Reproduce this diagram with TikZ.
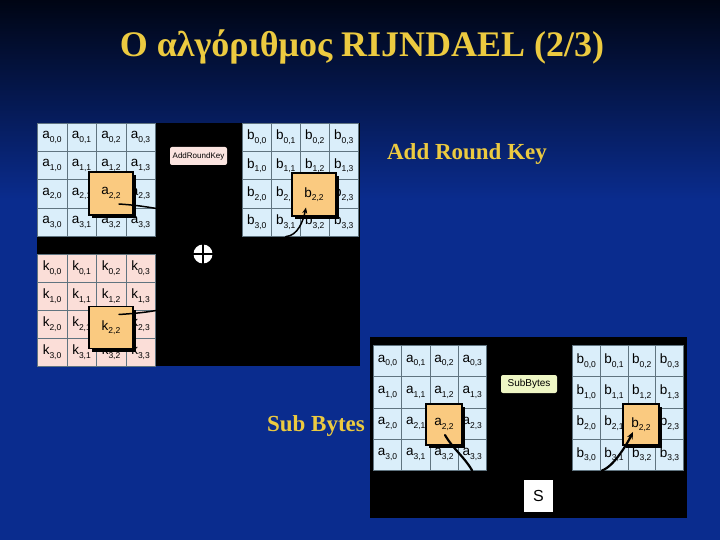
\documentclass[tikz,border=0pt]{standalone}
\usepackage{fontspec}
\setmainfont{Liberation Serif}
\newfontfamily\cellfont{Liberation Sans}
\usetikzlibrary{arrows.meta,shadows}
\definecolor{slidegold}{RGB}{236,202,64}
\definecolor{slideblue}{RGB}{10,44,142}
\definecolor{slidetop}{RGB}{0,5,20}
\definecolor{stateblue}{RGB}{218,238,250}
\definecolor{keypink}{RGB}{251,222,216}
\definecolor{hlorange}{RGB}{250,202,128}
\definecolor{gridgray}{RGB}{96,116,128}
\definecolor{tagpink}{RGB}{251,228,224}
\definecolor{taggreen}{RGB}{238,246,196}
\def\cellent#1#2#3{{\cellfont\fontsize{13.5}{13.5}\selectfont #1\raisebox{-0.5ex}{\fontsize{8.5}{8.5}\selectfont #2,#3}}}
% the (2,2) cell is hidden under its highlight box
\def\statemat#1#2#3#4#5#6#7{%
  \foreach \r in {0,...,3} \foreach \c in {0,...,3}
    \node[cellbox, fill=#7, minimum width=#5pt, minimum height=#6pt] (#1-\r-\c) at ({#3+\c*#5},{#4+\r*#6})
      {\ifnum\r\c=22 \else\cellent{#2}{\r}{\c}\fi};}

\begin{document}
\begin{tikzpicture}[x=1pt, y=-1pt,
    cellbox/.style={draw=gridgray, line width=0.6pt, anchor=north west, inner sep=0pt},
    hlbox/.style={draw=black, line width=1.3pt, fill=hlorange, inner sep=0pt,
      general shadow={fill=black, shadow xshift=3pt, shadow yshift=-3pt}},
    tagbox/.style={rounded corners=2pt, inner sep=0pt, font=\cellfont\fontsize{8}{8}\selectfont},
    slidetext/.style={text=slidegold, font=\bfseries\fontsize{23}{26}\selectfont},
    flow/.style={line width=1.5pt, line cap=round}]
		%%%%% START %%%%%
		\useasboundingbox (0,0) rectangle (720,540);
		\shade[top color=slidetop, bottom color=slideblue] (0,0) rectangle (720,200);
		\fill[slideblue] (0,200) rectangle (720,540);
		
		\node[text=slidegold, font=\bfseries\fontsize{36}{40}\selectfont, anchor=base] (title) at (362,57) {Ο αλγόριθμος RIJNDAEL (2/3)};
		
		% add round key panel
		\fill[black] (37,123) rectangle (360,366);
		\statemat{ark-a}{a}{37}{123}{29.5}{28.25}{stateblue}
		\statemat{ark-b}{b}{242}{123}{29}{28.25}{stateblue}
		\statemat{ark-k}{k}{37}{254}{29.5}{28}{keypink}
		
		\node[hlbox, minimum width=44pt, minimum height=43pt] (ark-ahl) at (111,193.5) {\cellent{a}{2}{2}};
		\node[hlbox, minimum width=44pt, minimum height=43pt] (ark-bhl) at (314,194.5) {\cellent{b}{2}{2}};
		\node[hlbox, minimum width=44pt, minimum height=42pt] (ark-khl) at (111,327.5) {\cellent{k}{2}{2}};
		
		\node[tagbox, fill=tagpink, minimum width=57pt, minimum height=18pt] (ark-tag) at (198.5,156) {AddRoundKey};
		
		\node[circle, fill=white, minimum size=19pt, inner sep=0pt] (xor) at (203,254) {};
		\draw[line width=1.4pt] (xor.north) -- (xor.south);
		\draw[line width=1.4pt] (xor.west) -- (xor.east);
		
		\draw[flow] ([xshift=8pt,yshift=-10.5pt]ark-ahl.center) .. controls +(15,1) and +(-12,-2) .. (ark-a-2-3.south east);
		\draw[flow] ([xshift=8pt,yshift=13pt]ark-khl.center) .. controls +(15,-1) and +(-12,2) .. (ark-k-1-3.south east);
		\draw[flow, -{Stealth[length=6pt,width=5pt]}] (ark-b-3-1.south) .. controls +(12,-1) and +(-3,14) .. ([xshift=-8pt,yshift=-13pt]ark-bhl.center);
		
		\node[slidetext] (ark-label) at (467,154) {Add Round Key};
		
		% sub bytes panel
		\fill[black] (370,337) rectangle (687,518);
		\statemat{sub-a}{a}{373}{345}{28.25}{31.25}{stateblue}
		\statemat{sub-b}{b}{572}{345}{27.75}{31.25}{stateblue}
		
		\node[hlbox, minimum width=36pt, minimum height=41pt] (sub-ahl) at (444,424.5) {\cellent{a}{2}{2}};
		\node[hlbox, minimum width=36pt, minimum height=41pt] (sub-bhl) at (641,424.5) {\cellent{b}{2}{2}};
		
		\node[tagbox, fill=taggreen, minimum width=56pt, minimum height=18pt, font=\cellfont\fontsize{10}{10}\selectfont] (sub-tag) at (529,384) {SubBytes};
		\node[fill=white, minimum width=29pt, minimum height=32pt, inner sep=0pt, font=\cellfont\fontsize{16}{16}\selectfont] (sbox) at (538.5,496) {S};
		
		\draw[flow, line width=2.2pt] ([xshift=1pt,yshift=-10.5pt]sub-ahl.center) .. controls +(8,14) and +(-8,-14) .. (sub-a-3-3.south);
		\draw[flow, line width=2.2pt, -{Stealth[length=7pt,width=6pt]}] ([xshift=2pt]sub-b-3-1.south west) .. controls +(12,-4) and +(-6,12) .. ([xshift=-8pt,yshift=-7.5pt]sub-bhl.center);
		
		\node[slidetext] (sub-label) at (316,426) {Sub Bytes};
		%%%%% END %%%%%
\end{tikzpicture}
\end{document}
